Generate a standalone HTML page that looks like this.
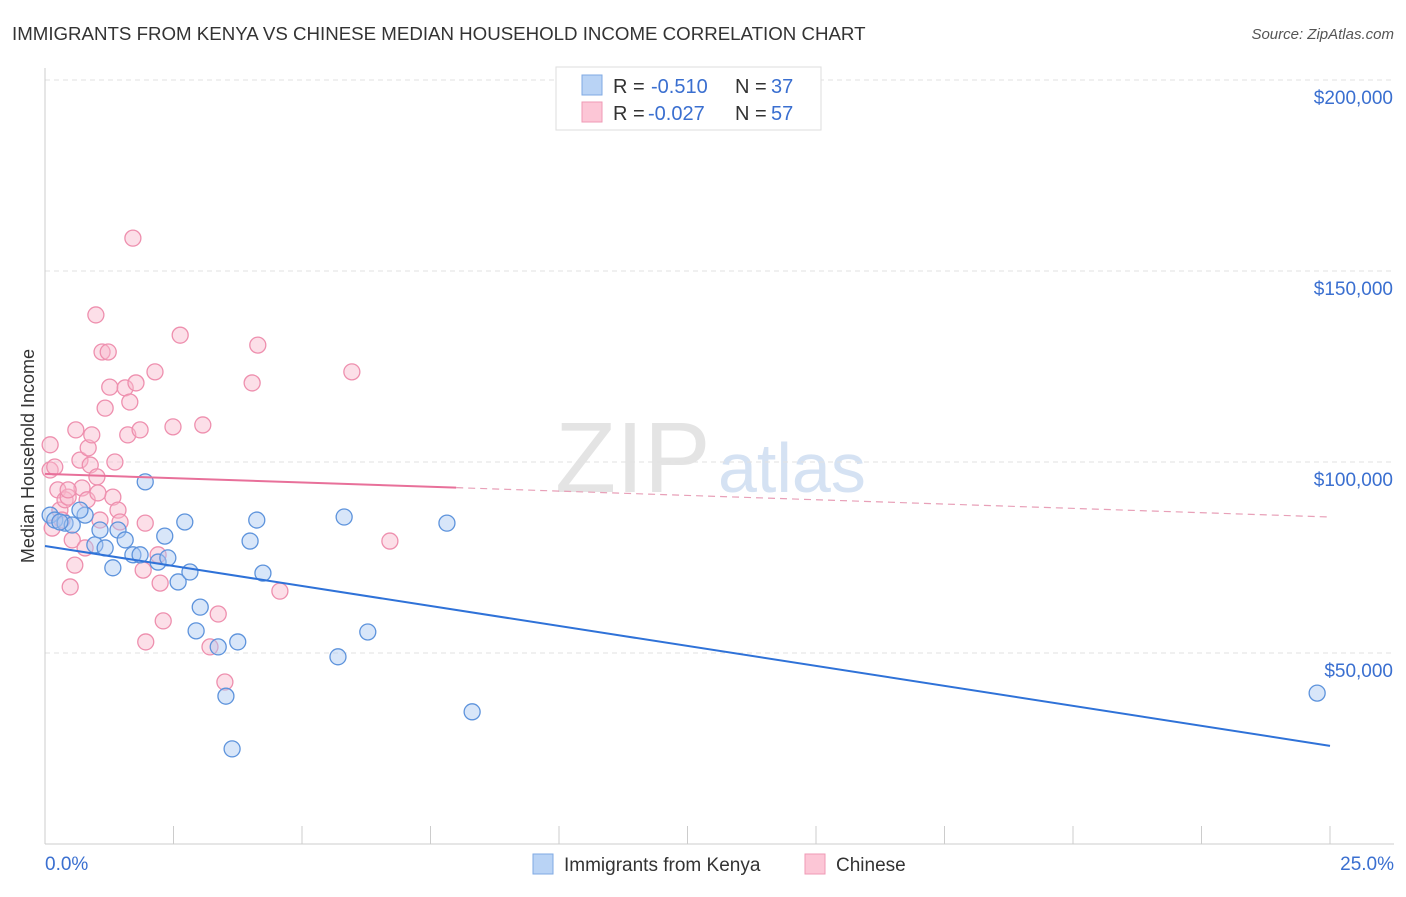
<!DOCTYPE html>
<html><head><meta charset="utf-8"><style>
body{margin:0;background:#fff;font-family:"Liberation Sans",sans-serif;}
svg text{font-family:"Liberation Sans",sans-serif;}
</style></head><body>
<svg id="chart" width="1406" height="892" xmlns="http://www.w3.org/2000/svg">
<text x="12" y="40" font-size="18.7" fill="#333">IMMIGRANTS FROM KENYA VS CHINESE MEDIAN HOUSEHOLD INCOME CORRELATION CHART</text>
<text x="1394" y="39" font-size="15" fill="#555" font-style="italic" text-anchor="end">Source: ZipAtlas.com</text>
<text x="555" y="492" font-size="100" fill="#e4e4e4" font-family="Liberation Serif">ZIP</text>
<text x="718" y="492" font-size="70" fill="#d5e2f3">atlas</text>
<text transform="translate(34,456) rotate(-90)" font-size="18" fill="#333" text-anchor="middle">Median Household Income</text>
<g id="grid"></g><g id="marks"></g>
<g>
<rect x="556" y="67" width="265" height="63" fill="#fff" stroke="#ddd"/>
<rect x="582" y="75" width="20" height="20" fill="#b9d3f5" stroke="#7fa9e3"/>
<rect x="582" y="102" width="20" height="20" fill="#fcc6d6" stroke="#ef9ab5"/>
<text x="613" y="93" font-size="20" fill="#333">R = </text><text x="651" y="93" font-size="20" fill="#3a6fd0">-0.510</text>
<text x="735" y="93" font-size="20" fill="#333">N = </text><text x="771" y="93" font-size="20" fill="#3a6fd0">37</text>
<text x="613" y="120" font-size="20" fill="#333">R = </text><text x="648" y="120" font-size="20" fill="#3a6fd0">-0.027</text>
<text x="735" y="120" font-size="20" fill="#333">N = </text><text x="771" y="120" font-size="20" fill="#3a6fd0">57</text>
</g>
<g>
<rect x="533" y="854" width="20" height="20" fill="#b9d3f5" stroke="#7fa9e3"/>
<text x="564" y="871" font-size="19" fill="#333">Immigrants from Kenya</text>
<rect x="805" y="854" width="20" height="20" fill="#fcc6d6" stroke="#ef9ab5"/>
<text x="836" y="871" font-size="19" fill="#333">Chinese</text>
</g>
</svg>
<script>
const xTicks=[0,2.5,5,7.5,10,12.5,15,17.5,20,22.5,25];
const yTicks=[50000,100000,150000,200000];
const yTickLabels=["$50,000","$100,000","$150,000","$200,000"];
const kenyaX=[0.10,0.19,0.39,0.53,0.78,0.68,0.97,1.07,1.17,1.32,1.42,1.56,1.71,1.85,1.95,2.20,2.33,2.39,2.59,2.72,2.82,2.94,3.02,3.37,3.52,3.64,3.75,3.99,4.12,4.24,5.70,5.82,6.28,7.82,8.31,24.75,0.29];
const kenyaY=[86100,84800,84000,83500,86100,87400,78300,82200,77500,72300,82200,79600,75700,75700,94800,73800,80600,74900,68600,84300,71200,55800,62000,51600,38700,24900,52900,79300,84800,70900,49000,85600,55500,84000,34600,39500,84300];
const chineseX=[0.10,0.10,0.14,0.19,0.25,0.29,0.33,0.39,0.45,0.49,0.53,0.58,0.60,0.68,0.72,0.78,0.82,0.84,0.88,0.91,0.99,1.01,1.07,1.11,1.17,1.23,1.26,1.32,1.36,1.42,1.56,1.61,1.65,1.71,1.77,1.85,1.91,1.95,1.96,2.14,2.20,2.24,2.30,2.49,2.63,3.07,3.21,3.37,3.50,4.03,4.14,4.57,5.97,6.71,1.03,0.45,1.46];
const chineseY=[104500,97900,82700,98700,92700,87400,84800,90100,90800,67300,79600,73000,108400,100500,93200,77500,90100,103700,99200,107100,138500,96100,84800,128800,114100,128800,119600,90800,100000,87400,119400,107100,115700,158600,120700,108400,71700,84000,52900,123600,75700,68300,58400,109200,133200,109700,51600,60200,42400,120700,130600,66200,123600,79300,91900,92700,84300];
const kenyaTrend=[78000,25700];
const chineseTrend=[96900,85600];
const chineseSolidEnd=8;
const X=v=>45+v/25*1285, Y=v=>844-v/50000*191;
const NS="http://www.w3.org/2000/svg";
function mk(t,a,p){const e=document.createElementNS(NS,t);for(const k in a)e.setAttribute(k,a[k]);p.appendChild(e);return e;}
const g=document.getElementById('grid'),m=document.getElementById('marks'),svg=document.getElementById('chart');
yTicks.forEach((v,i)=>{const l=mk('line',{x1:45,x2:1394,y1:Y(v),y2:Y(v),stroke:'#e2e2e2','stroke-dasharray':'5,4'},g);


const t=mk('text',{x:1393,y:Y(v)+24,'font-size':19,fill:'#3a6fd0','text-anchor':'end'},g);t.textContent=yTickLabels[i];

});
const ax=mk('line',{x1:45,x2:1394,y1:844,y2:844,stroke:'#ccc'},g);


const ay=mk('line',{x1:45,x2:45,y1:68,y2:844,stroke:'#ccc'},g);


xTicks.forEach(v=>{const l=mk('line',{x1:X(v),x2:X(v),y1:826,y2:844,stroke:'#ccc'},g);

});
const t0=mk('text',{x:45,y:870,'font-size':19,fill:'#3a6fd0'},g);t0.textContent='0.0%';


const t1=mk('text',{x:1394,y:870,'font-size':19,fill:'#3a6fd0','text-anchor':'end'},g);t1.textContent='25.0%';


function pts(xs,ys,fill,stroke,name){xs.forEach((x,i)=>{const c=mk('circle',{cx:X(x),cy:Y(ys[i]),r:8,fill:fill,'fill-opacity':0.45,stroke:stroke,'stroke-width':1.3},m);

});}
pts(chineseX,chineseY,'#f9b9cc','#ee8fae','chinese-point');
pts(kenyaX,kenyaY,'#a9c8f2','#5d93dc','kenya-point');
const ln=(a,b)=>a[0]+(a[1]-a[0])*b/25;
const kl=mk('line',{x1:X(0),y1:Y(kenyaTrend[0]),x2:X(25),y2:Y(kenyaTrend[1]),stroke:'#2f72d8','stroke-width':2},m);


const cl=mk('line',{x1:X(0),y1:Y(chineseTrend[0]),x2:X(chineseSolidEnd),y2:Y(ln(chineseTrend,chineseSolidEnd)),stroke:'#e8709a','stroke-width':2},m);


const cd=mk('line',{x1:X(chineseSolidEnd),y1:Y(ln(chineseTrend,chineseSolidEnd)),x2:X(25),y2:Y(chineseTrend[1]),stroke:'#e8a0b8','stroke-width':1.2,'stroke-dasharray':'7,5'},m);


</script>
</body></html>
